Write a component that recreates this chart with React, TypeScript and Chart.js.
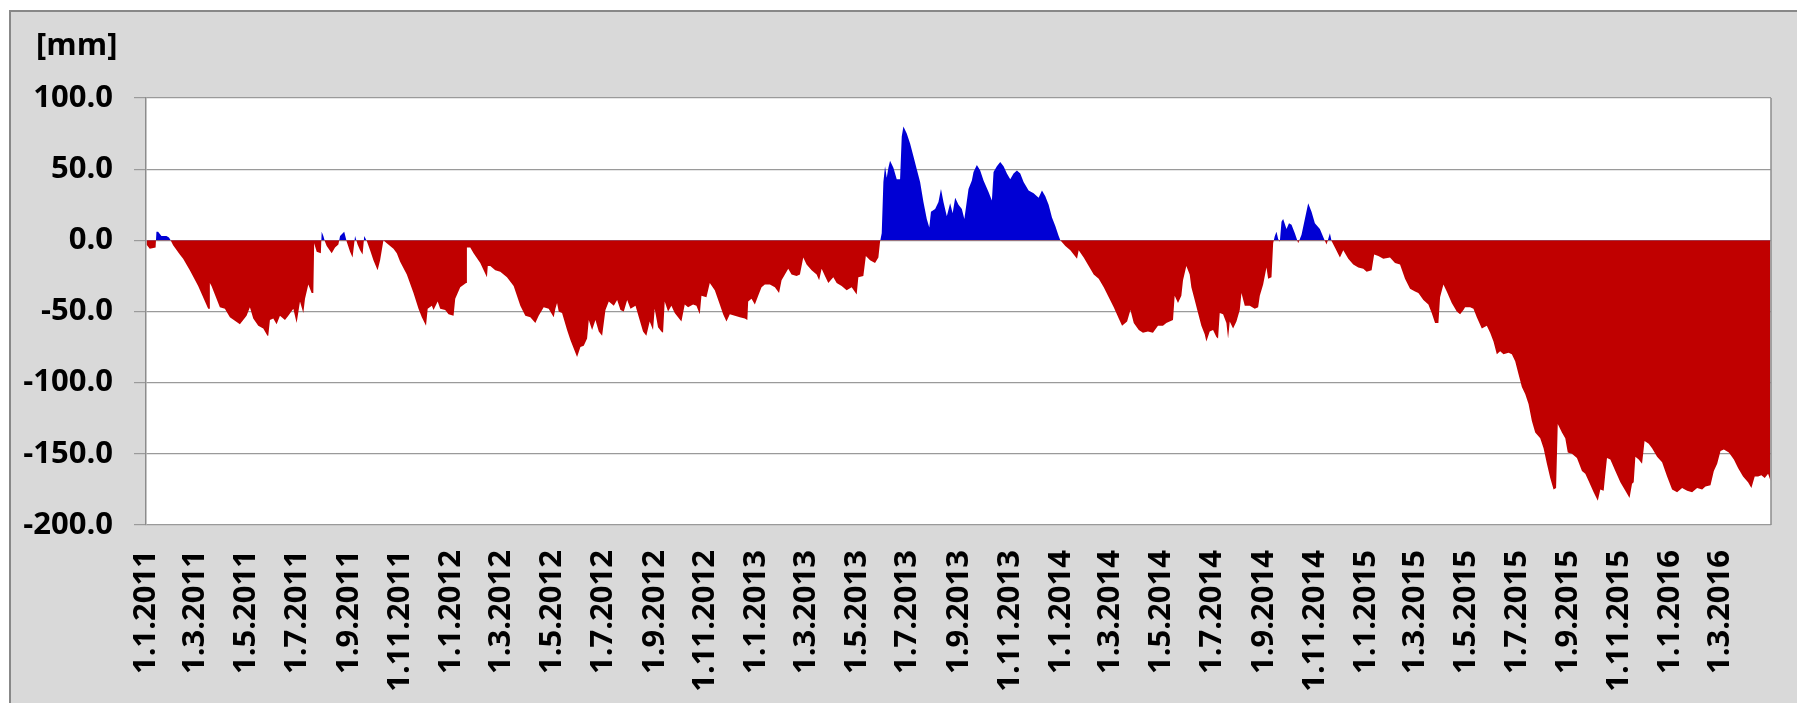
import React, { useEffect, useRef } from 'react';
import { Chart, registerables } from 'chart.js';

Chart.register(...registerables);

// x values are day indices counted from 1.1.2011 (day 0)
const days2011 = [0, 4, 11, 12, 14, 18, 24, 27, 29, 32, 40, 44, 52, 62, 74, 75, 76, 78, 88, 94, 100, 112, 120, 124, 128, 134, 140, 145, 146, 148, 152, 156, 160, 166, 170, 176, 180, 184, 188, 190, 194, 198, 200, 201, 204, 209, 210, 212, 214, 216, 222, 226, 230, 232, 237, 240, 244, 247, 249, 250, 253, 256, 259, 261, 264, 268, 272, 277, 280, 284, 288, 296, 300, 304, 312, 320, 326, 330, 335, 337, 342, 344, 349, 352, 358, 362];
const vals2011 = [-3, -6, -5, 6, 6, 3, 3, 2, 0, -3.5, -10, -13, -21, -32, -48, -48, -30, -32, -47, -48, -54, -59, -53, -47, -55, -60, -62, -67, -67, -56, -55, -59, -53, -56, -53, -48, -58, -43, -51, -41, -31, -37, -37, -2, -8, -9, 6, 3, -1, -4, -9, -5, -3, 3, 6, -1, -8, -12, -2, 3, -3, -7, -10, 3, -0.5, -7, -14, -21, -14, 0, -2, -6, -9, -15, -24, -37, -48, -54, -60, -48, -46, -49, -43, -48, -49, -52];

const days2012 = [368, 370, 376, 383, 384, 388, 392, 400, 408, 409, 412, 418, 424, 432, 440, 448, 454, 460, 466, 470, 476, 482, 488, 490, 492, 494, 498, 504, 508, 512, 516, 520, 524, 528, 530, 534, 538, 542, 546, 550, 554, 560, 564, 568, 572, 576, 580, 586, 590, 595, 599, 603, 607, 609, 613, 617, 619, 621, 625, 629, 633, 637, 641, 645, 649, 655, 659, 663, 665, 671, 675, 681, 687, 691, 695, 699, 705, 711, 717, 720, 721, 725, 729];
const vals2012 = [-53, -41, -33, -30, -5, -5, -9, -16, -26, -18, -18, -21, -22, -26, -32, -46, -53, -54, -58, -53, -47, -48, -54, -48, -44, -50, -51, -63, -70, -76, -82, -75, -74, -69, -56, -63, -56, -64, -67, -49, -43, -46, -42, -49, -50, -42, -48, -46, -54, -64, -67, -57, -63, -48, -61, -64, -65, -43, -50, -46, -51, -54, -57, -45, -47, -45, -46, -52, -39, -40, -30, -35, -45, -52, -57, -52, -53, -54, -55, -56, -43, -41, -45];

const days2013 = [733, 737, 741, 747, 753, 758, 761, 765, 769, 773, 779, 783, 787, 791, 797, 803, 806, 809, 813, 817, 823, 827, 833, 839, 845, 851, 853, 859, 862, 867, 873, 877, 879, 881, 883, 885, 887, 889, 891, 895, 899, 903, 905, 907, 911, 915, 919, 923, 927, 931, 935, 938, 940, 945, 949, 952, 955, 959, 963, 966, 969, 973, 977, 980, 985, 989, 991, 995, 999, 1003, 1009, 1013, 1015, 1019, 1023, 1027, 1031, 1035, 1039, 1043, 1047, 1051, 1057, 1063, 1069, 1073, 1077, 1081, 1085, 1089, 1093, 1095];
const vals2013 = [-39, -33, -31, -31, -33, -37, -28, -24, -20, -24, -25, -24, -12, -17, -21, -24, -28, -20, -25, -30, -26, -30, -32, -35, -33, -38, -26, -25, -11, -14, -16, -12, -1, 5, 41, 52, 44, 51, 56, 51, 43, 43, 73, 80, 75, 68, 59, 50, 41, 27, 15, 9, 20, 22, 27, 36, 27, 17, 26, 19, 30, 25, 22, 15, 36, 42, 48, 53, 49, 42, 34, 28, 48, 52, 55, 52, 47, 43, 47, 49, 47, 41, 35, 33, 30, 35, 31, 25, 16, 10, 3, 0];

const days2014 = [1101, 1107, 1115, 1117, 1123, 1129, 1135, 1141, 1147, 1153, 1159, 1165, 1169, 1175, 1179, 1183, 1189, 1194, 1200, 1206, 1212, 1218, 1222, 1226, 1230, 1232, 1236, 1240, 1242, 1246, 1250, 1252, 1256, 1260, 1264, 1268, 1270, 1274, 1278, 1282, 1284, 1286, 1290, 1294, 1296, 1298, 1302, 1306, 1310, 1312, 1316, 1322, 1328, 1332, 1334, 1338, 1342, 1344, 1348, 1350, 1352, 1354, 1356, 1358, 1360, 1362, 1366, 1369, 1372, 1376, 1380, 1384, 1388, 1392, 1396, 1400, 1406, 1411, 1414, 1418, 1420, 1424, 1430, 1434, 1440, 1446, 1452, 1458];
const vals2014 = [-4, -7, -13, -7, -12, -18, -24, -27, -33, -40, -47, -55, -60, -57, -49, -58, -63, -65, -64, -65, -60, -60, -58, -57, -56, -39, -44, -39, -28, -18, -24, -33, -42, -51, -60, -66, -71, -64, -63, -68, -69, -51, -52, -58, -69, -57, -62, -57, -49, -37, -46, -46, -48, -47, -39, -31, -19, -27, -26, -2, 3, 6, 1, -1, 13, 15, 8, 12, 11, 5, -2, 4, 15, 26, 20, 12, 8, 1, -3, 5, -0.5, -5, -12, -7, -13, -17, -19, -20];

const days2015 = [1462, 1468, 1471, 1476, 1482, 1490, 1496, 1502, 1508, 1514, 1520, 1524, 1530, 1536, 1540, 1544, 1548, 1550, 1554, 1558, 1564, 1570, 1574, 1578, 1580, 1586, 1590, 1594, 1600, 1606, 1610, 1614, 1618, 1622, 1626, 1632, 1636, 1640, 1644, 1648, 1652, 1656, 1660, 1664, 1670, 1674, 1678, 1682, 1686, 1689, 1691, 1696, 1700, 1703, 1708, 1714, 1720, 1724, 1728, 1734, 1739, 1742, 1746, 1748, 1750, 1754, 1760, 1766, 1772, 1777, 1780, 1782, 1784, 1788, 1792, 1795, 1800, 1804, 1810, 1816, 1822];
const vals2015 = [-22, -21, -10, -11, -13, -12, -16, -17, -27, -34, -36, -37, -42, -45, -51, -58, -58, -40, -31, -36, -44, -50, -52, -49, -47, -47, -48, -54, -62, -60, -65, -71, -80, -78, -80, -79, -80, -85, -94, -103, -108, -115, -127, -135, -139, -146, -157, -167, -175, -174, -129, -135, -139, -149, -150, -153, -162, -164, -169, -177, -183, -175, -176, -164, -153, -154, -162, -170, -176, -181, -171, -170, -152, -154, -157, -141, -143, -146, -152, -156, -166];

const days2016 = [1828, 1834, 1840, 1846, 1852, 1858, 1864, 1868, 1874, 1878, 1882, 1886, 1890, 1896, 1902, 1907, 1913, 1919, 1923, 1927, 1931, 1935, 1939, 1943, 1946];
const vals2016 = [-175, -177, -174, -176, -177, -174, -175, -173, -172, -162, -157, -148, -147, -149, -154, -160, -166, -170, -174, -166, -166, -165, -167, -164, -169];

const tickLabels = [
  '1.1.2011', '1.3.2011', '1.5.2011', '1.7.2011', '1.9.2011', '1.11.2011',
  '1.1.2012', '1.3.2012', '1.5.2012', '1.7.2012', '1.9.2012', '1.11.2012',
  '1.1.2013', '1.3.2013', '1.5.2013', '1.7.2013', '1.9.2013', '1.11.2013',
  '1.1.2014', '1.3.2014', '1.5.2014', '1.7.2014', '1.9.2014', '1.11.2014',
  '1.1.2015', '1.3.2015', '1.5.2015', '1.7.2015', '1.9.2015', '1.11.2015',
  '1.1.2016', '1.3.2016',
];

const unitLabel = '[mm]';
const LAST_DAY = 1946;

const BLUE = '#0000d4';
const RED = '#c00000';

function labelToDay(label: string): number {
  const [d, m, y] = label.split('.').map(Number);
  return Math.round((Date.UTC(y, m - 1, d) - Date.UTC(2011, 0, 1)) / 86400000);
}

export default function App() {
  const canvasRef = useRef<HTMLCanvasElement | null>(null);

  useEffect(() => {
    document.body.style.overflow = 'hidden';
    const canvas = canvasRef.current;
    if (!canvas) return;

    const allDays = [...days2011, ...days2012, ...days2013, ...days2014, ...days2015, ...days2016];
    const allVals = [...vals2011, ...vals2012, ...vals2013, ...vals2014, ...vals2015, ...vals2016];
    const points = allDays.map((d, i) => ({ x: d, y: allVals[i] }));
    const tickDays = tickLabels.map(labelToDay);

    const font = { family: "'Open Sans', 'Liberation Sans', sans-serif", size: 31, weight: 'bold' as const };

    const framePlugin = {
      id: 'frame',
      beforeDraw(chart: any) {
        const { ctx, chartArea } = chart;
        ctx.save();
        ctx.fillStyle = '#ffffff';
        ctx.fillRect(chartArea.left, chartArea.top, chartArea.right - chartArea.left, chartArea.bottom - chartArea.top);
        ctx.restore();
      },
      afterDraw(chart: any) {
        const { ctx, chartArea } = chart;
        ctx.save();
        ctx.strokeStyle = '#8c8c8c';
        ctx.lineWidth = 1.5;
        ctx.beginPath();
        ctx.moveTo(chartArea.right, chartArea.top);
        ctx.lineTo(chartArea.right, chartArea.bottom);
        ctx.stroke();
        ctx.fillStyle = '#000000';
        ctx.font = "bold 31px 'Open Sans', 'Liberation Sans', sans-serif";
        ctx.textAlign = 'left';
        ctx.textBaseline = 'alphabetic';
        ctx.fillText(unitLabel, 36, 55);
        ctx.restore();
      },
    };

    const chart = new Chart(canvas, {
      type: 'line',
      data: {
        datasets: [
          {
            data: points,
            fill: { target: 'origin', above: BLUE, below: RED },
            borderWidth: 0,
            borderColor: 'rgba(0,0,0,0)',
            pointRadius: 0,
            tension: 0,
          },
        ],
      },
      options: {
        animation: false,
        responsive: false,
        maintainAspectRatio: false,
        layout: { padding: { top: 98, right: 26, left: 0, bottom: 0 } },
        plugins: {
          legend: { display: false },
          tooltip: { enabled: false },
          title: { display: false },
        },
        scales: {
          x: {
            type: 'linear',
            min: -0.5,
            max: LAST_DAY + 0.5,
            grid: { display: false, drawTicks: false },
            border: { display: false },
            afterBuildTicks: (s: any) => {
              s.ticks = tickDays.map((v) => ({ value: v }));
            },
            afterFit: (s: any) => {
              s.height = 178;
            },
            ticks: {
              autoSkip: false,
              minRotation: 90,
              maxRotation: 90,
              padding: 25,
              color: '#000000',
              font,
              callback: (_v: any, i: number) => tickLabels[i],
            },
          },
          y: {
            min: -200,
            max: 100,
            afterFit: (s: any) => {
              s.width = 146;
            },
            ticks: {
              stepSize: 50,
              padding: 21,
              color: '#000000',
              font,
              callback: (v: any) => Number(v).toFixed(1),
            },
            grid: { color: '#9a9a9a', lineWidth: 1.2, tickLength: 12 },
            border: { display: true, color: '#8c8c8c', width: 1.5 },
          },
        },
      },
      plugins: [framePlugin],
    } as any);

    return () => {
      chart.destroy();
    };
  }, []);

  return (
    <>
      <div
        style={{
          position: 'fixed',
          left: 9,
          top: 10,
          width: 1850,
          height: 800,
          background: '#d9d9d9',
          border: '2px solid #888888',
        }}
      />
      <canvas
        ref={canvasRef}
        width={1797}
        height={703}
        style={{ position: 'fixed', left: 0, top: 0, width: 1797, height: 703 }}
      />
    </>
  );
}
